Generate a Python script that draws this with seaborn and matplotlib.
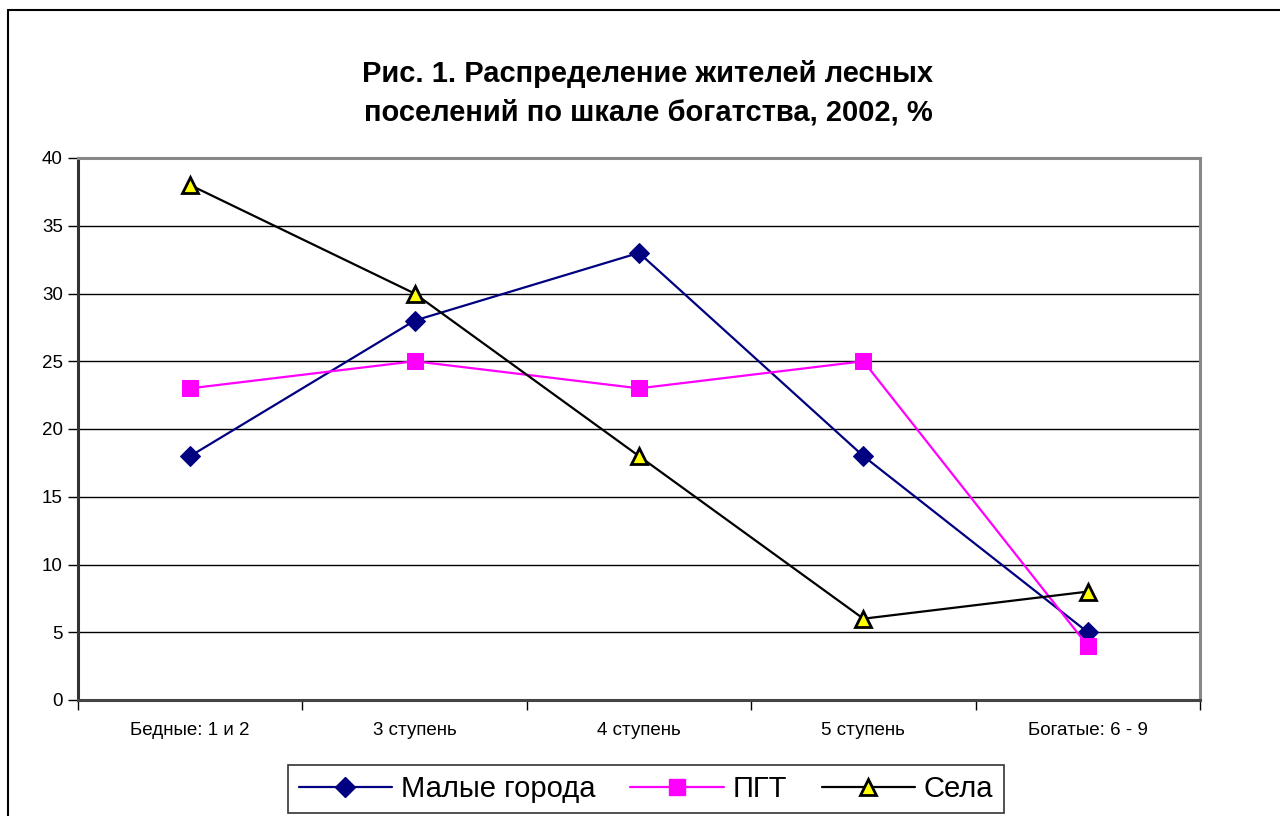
import matplotlib
matplotlib.use('Agg')
import matplotlib.pyplot as plt
from matplotlib.lines import Line2D
import pandas as pd
import seaborn as sns

# data
categories = ['Бедные: 1 и 2', '3 ступень', '4 ступень', '5 ступень', 'Богатые: 6 - 9']
small_towns = [18, 28, 33, 18, 5]
pgt = [23, 25, 23, 25, 4]
villages = [38, 30, 18, 6, 8]
y_ticks = [0, 5, 10, 15, 20, 25, 30, 35, 40]
title = 'Рис. 1. Распределение жителей лесных\nпоселений по шкале богатства, 2002, %'

df = pd.DataFrame({'cat': categories * 3,
                   'value': small_towns + pgt + villages,
                   'series': ['Малые города'] * 5 + ['ПГТ'] * 5 + ['Села'] * 5})

sns.set_style('white')
plt.rcParams['font.family'] = ['Liberation Sans', 'DejaVu Sans']
plt.rcParams['text.color'] = 'black'
plt.rcParams['xtick.color'] = 'black'
plt.rcParams['ytick.color'] = 'black'
plt.rcParams['xtick.bottom'] = True
plt.rcParams['ytick.left'] = True

fig = plt.figure(figsize=(12.8, 8.16), dpi=100)
ax = fig.add_axes([78 / 1280, 1 - 700 / 816, 1122 / 1280, 542 / 816])

styles = {
    'Малые города': dict(color='#000080', marker='D', markersize=10,
                         markerfacecolor='#000080', markeredgecolor='#000080'),
    'ПГТ': dict(color='#FF00FF', marker='s', markersize=12,
                markerfacecolor='#FF00FF', markeredgecolor='#FF00FF'),
    'Села': dict(color='black', marker='^', markersize=12,
                 markerfacecolor='#FFFF00', markeredgecolor='black', markeredgewidth=2),
}

for name, st in styles.items():
    sub = df[df.series == name]
    sns.lineplot(data=sub, x='cat', y='value', ax=ax, linewidth=1.6,
                 sort=False, legend=False, zorder=3, **st)

ax.set_xlim(-0.5, 4.5)
ax.set_ylim(0, 40)
ax.set_yticks(y_ticks)
ax.set_yticklabels([str(t) for t in y_ticks], fontsize=13.5)
ax.set_xticks(range(len(categories)))
ax.set_xticklabels(categories, fontsize=13.5)
ax.set_xticks([i - 0.5 for i in range(len(categories) + 1)], minor=True)
ax.tick_params(axis='x', which='major', bottom=True, length=0, pad=16, labelcolor='black')
ax.tick_params(axis='x', which='minor', bottom=True, length=7, width=1, color='black', direction='out')
ax.tick_params(axis='y', left=True, length=7, width=1, color='black', direction='out',
               pad=4, labelcolor='black')
ax.set_xlabel('')
ax.set_ylabel('')

for t in y_ticks[1:-1]:
    ax.axhline(t, color='black', linewidth=1, zorder=1)

ax.spines['left'].set_color('#333333')
ax.spines['bottom'].set_color('#444444')
ax.spines['top'].set_color('#888888')
ax.spines['right'].set_color('#888888')
for s in ax.spines.values():
    s.set_linewidth(2.2)

fig.text(648 / 1280, 1 - 93 / 816, title, ha='center', va='center', color='black',
         fontsize=21, fontweight='bold', linespacing=1.5)

handles = [Line2D([], [], linewidth=1.6, **st) for st in styles.values()]
leg = fig.legend(handles, list(styles.keys()), loc='center',
                 bbox_to_anchor=(646 / 1280, 1 - 789 / 816), ncol=3,
                 fontsize=21, frameon=True, fancybox=False, handlelength=3.2,
                 columnspacing=1.2, handletextpad=0.3, borderpad=0.35)
leg.get_frame().set_edgecolor('black')
leg.get_frame().set_linewidth(1.2)
for txt in leg.get_texts():
    txt.set_color('black')

# outer chart border (extends past right/bottom edges)
fig.add_artist(Line2D([8 / 1280, 1.0], [1 - 10 / 816, 1 - 10 / 816],
                      transform=fig.transFigure, color='black', linewidth=1.5))
fig.add_artist(Line2D([8 / 1280, 8 / 1280], [0.0, 1 - 10 / 816],
                      transform=fig.transFigure, color='black', linewidth=1.5))

fig.savefig('out.png', dpi=100, facecolor='white')
